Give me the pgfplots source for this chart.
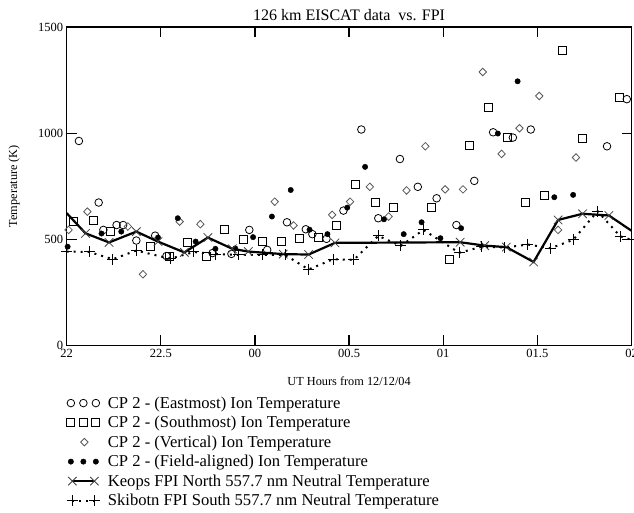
\documentclass[border=0pt]{standalone}
\usepackage{fontspec}
\setmainfont{Liberation Serif}
\usepackage{pgfplots}
\pgfplotsset{compat=1.18}
\pgfplotsset{
  threemarks/.style={legend image code/.code={
     \path[draw=none,fill=none] (0pt,-4pt) rectangle (33pt,4pt);
     \draw[##1,only marks] plot coordinates {(4pt,0pt)(16.5pt,0pt)(29pt,0pt)};
  }},
  onemark/.style={legend image code/.code={
     \path[draw=none,fill=none] (0pt,-4pt) rectangle (33pt,4pt);
     \draw[##1,only marks] plot coordinates {(17.5pt,0pt)};
  }},
  twomarkline/.style={legend image code/.code={
     \path[draw=none,fill=none] (0pt,-4pt) rectangle (33pt,4pt);
     \draw[##1] plot coordinates {(5.5pt,0pt)(5.5pt,0pt)(27.5pt,0pt)};
  }},
}
\begin{document}
\begin{tikzpicture}
\begin{axis}[
  scale only axis,
  width=565pt, height=318.5pt,
  xmin=0, xmax=6, ymin=0, ymax=1500,
  xtick={0,1,2,3,4,5,6},
  xticklabels={22,22.5,00,00.5,01,01.5,02},
  ytick={0,500,1000,1500},
  yticklabels={0,500,1000,1500},
  minor tick num=0,
  tick align=inside,
  major tick length=10pt,
  every tick/.style={black, line width=1.2pt},
  axis line style={line width=1.2pt},
  /pgf/number format/assume math mode=true,
  ticklabel style={font=\fontsize{12.5}{14}\selectfont},
  title={126 km EISCAT data \ vs. FPI},
  title style={font=\fontsize{16}{19}\selectfont, yshift=-3pt},
  xlabel={UT Hours from 12/12/04},
  xlabel style={font=\fontsize{12.3}{14}\selectfont, at={(axis description cs:0.5,0)}, anchor=center, yshift=-35.5pt},
  ylabel={Temperature (K)},
  ylabel style={font=\fontsize{12.3}{14}\selectfont, at={(axis description cs:-0.093,0.5)}, anchor=center},
  legend cell align=left,
  legend style={
    at={(0,0)}, anchor=north west, xshift=-3pt, yshift=-49pt,
    draw=none, fill=none,
    font=\fontsize{16.6}{19}\selectfont,
    row sep=6.5pt, column sep=8pt,
    nodes={inner sep=0pt},
  },
]
% Eastmost
\addplot[only marks, mark=o, mark size=3.8pt, mark options={line width=0.8pt, black}, threemarks] coordinates {
(0.13,963) (0.34,673) (0.39,544) (0.53,567) (0.60,567) (0.74,494) (0.94,517)
(1.06,421) (1.55,435) (1.75,431) (1.94,544) (2.13,450) (2.34,580) (2.54,547)
(2.61,524) (2.76,502) (2.94,635) (3.13,1017) (3.31,599) (3.54,878) (3.73,747)
(3.93,693) (4.14,567) (4.33,775) (4.53,1004) (4.74,979) (4.93,1017) (5.74,938)
(5.95,1160)};
\addlegendentry{CP 2 - (Eastmost) Ion Temperature}
% Southmost
\addplot[only marks, mark=square, mark size=4pt, mark options={line width=0.9pt, black}, threemarks] coordinates {
(0.07,583) (0.28,588) (0.47,539) (0.89,465) (1.09,418) (1.28,484) (1.49,421)
(1.68,544) (1.88,497) (2.08,492) (2.28,492) (2.47,502) (2.67,510) (2.87,564)
(3.07,756) (3.28,674) (3.47,649) (3.88,649) (4.07,406) (4.28,943) (4.48,1119)
(4.68,979) (4.87,674) (5.07,706) (5.27,1390) (5.48,974) (5.87,1166)};
\addlegendentry{CP 2 - (Southmost) Ion Temperature}
% Vertical
\addplot[only marks, mark=diamond, mark size=3.8pt, mark options={xscale=1.3, line width=0.8pt, draw=black!65}, onemark] coordinates {
(0.02,544) (0.22,630) (0.65,560) (0.81,335) (1.20,583) (1.42,571) (2.21,677)
(2.41,565) (2.82,615) (3.01,677) (3.22,747) (3.42,607) (3.61,730) (3.81,938)
(4.02,735) (4.21,735) (4.42,1288) (4.62,902) (4.81,1023) (5.02,1175) (5.22,544)
(5.41,885)};
\addlegendentry{CP 2 - (Vertical) Ion Temperature}
% Field-aligned
\addplot[only marks, mark=*, mark size=2.7pt, mark options={black, fill=black}, threemarks] coordinates {
(0.01,465) (0.37,527) (0.58,536) (0.97,508) (1.18,599) (1.37,489) (1.58,455)
(1.79,457) (1.98,510) (2.18,607) (2.38,732) (2.58,545) (2.77,524) (2.98,649)
(3.17,841) (3.37,594) (3.58,524) (3.77,580) (3.97,505) (4.19,552) (4.58,998)
(4.79,1244) (5.18,698) (5.38,709)};
\addlegendentry{CP 2 - (Field-aligned) Ion Temperature}
% Keops
\addplot[black, line width=2.2pt, mark=x, mark size=6pt, mark options={line width=0.8pt, black!75, solid},
  mark indices={2,3,4,5,6,7,8,9,10,11,12,13,14,15,16,17,18,19}, twomarkline] coordinates {
(0,623) (0.20,528) (0.45,485) (0.74,536) (0.97,489) (1.25,438) (1.50,508)
(1.76,455) (1.93,442) (2.30,430) (2.57,428) (2.85,483) (4.18,486) (4.44,470)
(4.67,463) (4.96,393) (5.22,591) (5.48,620) (5.76,612) (6.0,540)};
\addlegendentry{Keops FPI North 557.7 nm Neutral Temperature}
% Skibotn
\addplot[black, line width=2pt, dash pattern=on 2pt off 5pt, mark=+, mark size=5.5pt, mark options={line width=1pt, solid}, twomarkline] coordinates {
(0,442) (0.24,440) (0.49,406) (0.74,447) (1.10,408) (1.35,440) (1.58,430)
(1.82,426) (2.08,426) (2.32,426) (2.57,358) (2.83,406) (3.05,403) (3.31,516)
(3.55,469) (3.79,544) (4.17,436) (4.41,465) (4.65,461) (4.90,475) (5.14,458)
(5.38,497) (5.64,632) (5.88,514) (6.0,497)};
\addlegendentry{Skibotn FPI South 557.7 nm Neutral Temperature}
\end{axis}
\pgfresetboundingbox
\useasboundingbox ([xshift=-66.7pt,yshift=-167.5pt]current axis.south west) rectangle ([xshift=2.5pt,yshift=27pt]current axis.north east);
\end{tikzpicture}
\end{document}
